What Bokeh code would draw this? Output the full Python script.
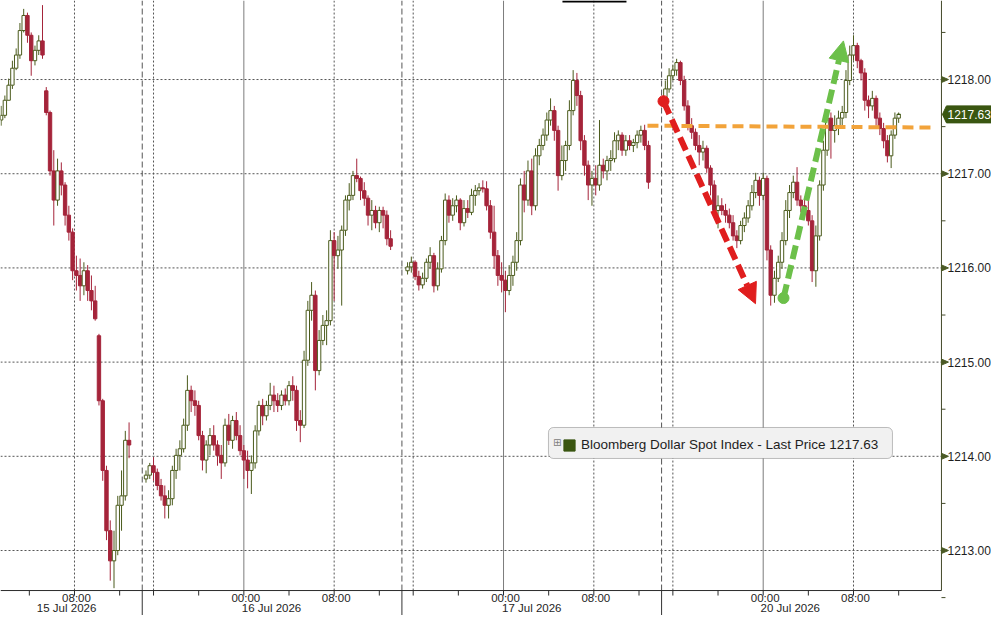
from bokeh.plotting import figure
from bokeh.models import (ColumnDataSource, Range1d, Arrow, NormalHead, Legend, LegendItem,
                          Label, BoxAnnotation)
from bokeh.embed import file_html
from bokeh.resources import INLINE

# Bloomberg Dollar Spot Index, 20 minute bars, one block per trading session
# session 1: 15 Jul, up to the 14:00 break
s1_open = [1217.57, 1217.62, 1217.78, 1217.94, 1218.12, 1218.26, 1218.52, 1218.68, 1218.47, 1218.20,
           1218.31, 1218.41, 1217.88, 1217.65, 1217.03, 1216.72, 1217.03, 1216.88, 1216.56, 1216.38,
           1215.97, 1215.92, 1215.81, 1215.97, 1215.76, 1215.65, 1215.28, 1214.59, 1213.85, 1213.21,
           1212.89, 1213.00, 1213.48, 1213.58, 1214.17]
s1_high = [1217.72, 1217.83, 1218.01, 1218.20, 1218.33, 1218.60, 1218.75, 1218.71, 1218.50, 1218.36,
           1218.47, 1218.79, 1217.92, 1217.67, 1217.25, 1217.16, 1217.12, 1216.91, 1216.66, 1216.42,
           1216.13, 1216.10, 1216.06, 1216.03, 1215.92, 1215.81, 1215.30, 1214.61, 1213.90, 1213.32,
           1213.21, 1213.58, 1213.85, 1214.27, 1214.36]
s1_low = [1217.51, 1217.59, 1217.78, 1217.90, 1218.10, 1218.22, 1218.50, 1218.39, 1218.04, 1218.15,
          1218.26, 1218.22, 1217.62, 1216.98, 1216.45, 1216.66, 1216.77, 1216.45, 1216.29, 1215.87,
          1215.76, 1215.65, 1215.71, 1215.65, 1215.55, 1215.44, 1214.54, 1213.74, 1213.11, 1212.68,
          1212.60, 1212.95, 1213.21, 1213.53, 1213.98]
s1_close = [1217.62, 1217.78, 1217.94, 1218.12, 1218.26, 1218.52, 1218.68, 1218.47, 1218.20, 1218.31,
            1218.41, 1218.26, 1217.65, 1217.03, 1216.72, 1217.03, 1216.88, 1216.56, 1216.38, 1215.97,
            1215.92, 1215.81, 1215.97, 1215.76, 1215.65, 1215.46, 1214.59, 1213.85, 1213.21, 1212.89,
            1213.00, 1213.48, 1213.58, 1214.17, 1214.12]

# session 2: 15 Jul 15:00 -> 16 Jul 14:00
s2_open = [1213.76, 1213.80, 1213.90, 1213.83, 1213.69, 1213.58, 1213.48, 1213.55, 1213.85, 1214.01,
           1214.08, 1214.33, 1214.70, 1214.59, 1214.54, 1214.22, 1213.96, 1214.12, 1214.22, 1214.12,
           1214.01, 1213.93, 1214.33, 1214.17, 1214.38, 1214.22, 1214.06, 1213.96, 1213.85, 1213.93,
           1214.27, 1214.54, 1214.43, 1214.54, 1214.65, 1214.59, 1214.54, 1214.65, 1214.59, 1214.75,
           1214.70, 1214.38, 1214.33, 1215.02, 1215.55, 1215.71, 1214.91, 1215.23, 1215.39, 1215.44,
           1216.29, 1216.13, 1216.19, 1216.40, 1216.72, 1216.77, 1216.98, 1216.95, 1216.82, 1216.74,
           1216.56, 1216.61, 1216.48, 1216.61, 1216.56, 1216.31]
s2_high = [1213.85, 1213.93, 1213.99, 1213.87, 1213.76, 1213.69, 1213.64, 1213.90, 1214.08, 1214.17,
           1214.40, 1214.86, 1214.75, 1214.70, 1214.59, 1214.27, 1214.17, 1214.30, 1214.33, 1214.17,
           1214.12, 1214.40, 1214.45, 1214.43, 1214.47, 1214.33, 1214.12, 1214.06, 1214.01, 1214.33,
           1214.59, 1214.61, 1214.59, 1214.78, 1214.75, 1214.67, 1214.70, 1214.72, 1214.80, 1214.85,
           1214.75, 1214.49, 1215.12, 1215.65, 1215.85, 1215.76, 1215.34, 1215.50, 1215.55, 1216.40,
           1216.38, 1216.34, 1216.45, 1216.77, 1216.90, 1217.03, 1217.16, 1216.97, 1216.91, 1216.77,
           1216.72, 1216.66, 1216.65, 1216.65, 1216.61, 1216.40]
s2_low = [1213.72, 1213.76, 1213.74, 1213.64, 1213.53, 1213.34, 1213.34, 1213.48, 1213.76, 1213.85,
          1214.04, 1214.27, 1214.47, 1214.43, 1214.17, 1213.85, 1213.82, 1214.01, 1214.06, 1213.90,
          1213.76, 1213.89, 1214.12, 1214.08, 1214.17, 1214.01, 1213.76, 1213.66, 1213.60, 1213.87,
          1214.22, 1214.33, 1214.38, 1214.49, 1214.47, 1214.47, 1214.49, 1214.54, 1214.54, 1214.59,
          1214.27, 1214.15, 1214.30, 1214.96, 1215.44, 1214.70, 1214.86, 1215.18, 1215.18, 1215.39,
          1215.65, 1215.99, 1215.60, 1216.34, 1216.61, 1216.72, 1216.91, 1216.72, 1216.66, 1216.45,
          1216.40, 1216.42, 1216.38, 1216.42, 1216.24, 1216.19]
s2_close = [1213.80, 1213.90, 1213.83, 1213.69, 1213.58, 1213.48, 1213.55, 1213.85, 1214.01, 1214.08,
            1214.33, 1214.70, 1214.59, 1214.54, 1214.22, 1213.96, 1214.12, 1214.22, 1214.12, 1214.01,
            1213.93, 1214.33, 1214.17, 1214.38, 1214.22, 1214.06, 1213.96, 1213.85, 1213.93, 1214.27,
            1214.54, 1214.43, 1214.54, 1214.65, 1214.59, 1214.54, 1214.65, 1214.59, 1214.75, 1214.70,
            1214.38, 1214.33, 1215.02, 1215.55, 1215.71, 1214.91, 1215.23, 1215.39, 1215.44, 1216.29,
            1216.13, 1216.19, 1216.40, 1216.72, 1216.77, 1216.98, 1216.95, 1216.82, 1216.74, 1216.56,
            1216.61, 1216.48, 1216.61, 1216.56, 1216.31, 1216.23]

# session 3: 16 Jul 15:00 -> 17 Jul 14:00
s3_open = [1215.97, 1216.01, 1216.06, 1215.91, 1215.82, 1215.89, 1216.06, 1216.13, 1215.81, 1215.99,
           1216.29, 1216.72, 1216.56, 1216.66, 1216.72, 1216.48, 1216.63, 1216.59, 1216.77, 1216.82,
           1216.85, 1216.84, 1216.66, 1216.38, 1216.13, 1215.92, 1215.87, 1215.76, 1215.92, 1216.06,
           1216.29, 1216.88, 1216.72, 1217.03, 1216.66, 1217.19, 1217.30, 1217.41, 1217.57, 1217.67,
           1217.46, 1216.98, 1217.14, 1217.30, 1217.67, 1217.99, 1217.83, 1217.35, 1217.09, 1216.88,
           1216.95, 1216.88, 1217.09, 1217.03, 1217.14, 1217.16, 1217.35, 1217.41, 1217.25, 1217.35,
           1217.30, 1217.33, 1217.41, 1217.46, 1217.30]
s3_high = [1216.06, 1216.12, 1216.08, 1215.97, 1215.95, 1216.10, 1216.22, 1216.16, 1216.06, 1216.34,
           1216.79, 1216.77, 1216.74, 1216.77, 1216.74, 1216.72, 1216.72, 1216.84, 1216.88, 1216.90,
           1216.93, 1216.92, 1216.72, 1216.66, 1216.19, 1216.06, 1215.97, 1216.03, 1216.13, 1216.38,
           1216.95, 1217.03, 1217.14, 1217.16, 1217.27, 1217.37, 1217.48, 1217.65, 1217.80, 1217.72,
           1217.51, 1217.30, 1217.35, 1217.78, 1218.10, 1218.07, 1217.88, 1217.41, 1217.14, 1217.03,
           1217.09, 1217.57, 1217.16, 1217.19, 1217.25, 1217.44, 1217.46, 1217.44, 1217.41, 1217.41,
           1217.37, 1217.46, 1217.51, 1217.52, 1217.35]
s3_low = [1215.93, 1215.95, 1215.87, 1215.76, 1215.78, 1215.85, 1215.99, 1215.74, 1215.76, 1215.95,
          1216.24, 1216.48, 1216.50, 1216.59, 1216.40, 1216.44, 1216.53, 1216.56, 1216.66, 1216.77,
          1216.80, 1216.61, 1216.31, 1215.99, 1215.81, 1215.74, 1215.53, 1215.71, 1215.81, 1215.97,
          1216.24, 1216.59, 1216.66, 1216.56, 1216.61, 1217.09, 1217.25, 1217.35, 1217.51, 1217.35,
          1216.82, 1216.93, 1217.03, 1217.25, 1217.62, 1217.72, 1217.25, 1216.98, 1216.72, 1216.66,
          1216.77, 1216.82, 1216.95, 1216.93, 1217.03, 1217.12, 1217.25, 1217.19, 1217.19, 1217.25,
          1217.23, 1217.27, 1217.33, 1217.25, 1216.84]
s3_close = [1216.01, 1216.06, 1215.91, 1215.82, 1215.89, 1216.06, 1216.13, 1215.81, 1215.99, 1216.29,
            1216.72, 1216.56, 1216.66, 1216.72, 1216.48, 1216.63, 1216.59, 1216.77, 1216.82, 1216.85,
            1216.84, 1216.66, 1216.38, 1216.13, 1215.92, 1215.87, 1215.76, 1215.92, 1216.06, 1216.29,
            1216.88, 1216.72, 1217.03, 1216.66, 1217.19, 1217.30, 1217.41, 1217.57, 1217.67, 1217.46,
            1216.98, 1217.14, 1217.30, 1217.67, 1217.99, 1217.83, 1217.35, 1217.09, 1216.88, 1216.95,
            1216.88, 1217.09, 1217.03, 1217.14, 1217.16, 1217.35, 1217.41, 1217.25, 1217.35, 1217.30,
            1217.33, 1217.41, 1217.46, 1217.30, 1216.91]

# session 4: 19 Jul 15:00 -> 20 Jul (still running)
s4_open = [1217.78, 1217.90, 1218.04, 1218.10, 1218.18, 1217.99, 1217.72, 1217.51, 1217.44, 1217.30,
           1217.23, 1217.27, 1217.06, 1216.88, 1216.61, 1216.66, 1216.61, 1216.56, 1216.48, 1216.34,
           1216.29, 1216.45, 1216.53, 1216.66, 1216.80, 1216.93, 1216.77, 1216.95, 1216.19, 1215.71,
           1215.89, 1216.06, 1216.29, 1216.61, 1216.80, 1216.91, 1216.72, 1216.66, 1216.61, 1216.50,
           1215.97, 1216.34, 1216.88, 1217.25, 1217.59, 1217.46, 1217.51, 1217.59, 1217.65, 1217.99,
           1218.26, 1218.36, 1218.20, 1218.07, 1217.78, 1217.72, 1217.80, 1217.59, 1217.48, 1217.35,
           1217.19, 1217.41, 1217.59]
s4_high = [1217.99, 1218.12, 1218.15, 1218.22, 1218.20, 1218.04, 1217.78, 1217.59, 1217.48, 1217.41,
           1217.35, 1217.30, 1217.09, 1216.93, 1216.77, 1216.74, 1216.68, 1216.63, 1216.56, 1216.40,
           1216.50, 1216.59, 1216.72, 1216.88, 1217.01, 1216.97, 1217.01, 1216.98, 1216.24, 1215.97,
           1216.13, 1216.38, 1216.72, 1216.88, 1216.98, 1217.07, 1216.77, 1216.74, 1216.72, 1216.56,
           1216.45, 1216.93, 1217.35, 1217.67, 1217.65, 1217.62, 1217.67, 1217.72, 1218.10, 1218.36,
           1218.47, 1218.39, 1218.22, 1218.12, 1217.83, 1217.88, 1217.83, 1217.65, 1217.54, 1217.41,
           1217.46, 1217.65, 1217.65]
s4_low = [1217.76, 1217.86, 1217.99, 1218.04, 1217.94, 1217.67, 1217.46, 1217.37, 1217.25, 1217.09,
          1217.14, 1217.01, 1216.77, 1216.56, 1216.42, 1216.56, 1216.48, 1216.42, 1216.29, 1216.21,
          1216.25, 1216.38, 1216.48, 1216.61, 1216.74, 1216.66, 1216.72, 1216.08, 1215.60, 1215.63,
          1215.85, 1215.99, 1216.24, 1216.53, 1216.74, 1216.66, 1216.59, 1216.56, 1216.45, 1215.85,
          1215.80, 1216.29, 1216.82, 1217.19, 1217.16, 1217.33, 1217.41, 1217.48, 1217.59, 1217.94,
          1218.20, 1218.12, 1217.99, 1217.67, 1217.59, 1217.67, 1217.51, 1217.41, 1217.27, 1217.12,
          1217.06, 1217.37, 1217.54]
s4_close = [1217.90, 1218.04, 1218.10, 1218.18, 1217.99, 1217.72, 1217.51, 1217.44, 1217.30, 1217.23,
            1217.27, 1217.06, 1216.88, 1216.61, 1216.66, 1216.61, 1216.56, 1216.48, 1216.34, 1216.29,
            1216.45, 1216.53, 1216.66, 1216.80, 1216.93, 1216.77, 1216.95, 1216.19, 1215.71, 1215.89,
            1216.06, 1216.29, 1216.61, 1216.80, 1216.91, 1216.72, 1216.66, 1216.61, 1216.50, 1215.97,
            1216.34, 1216.88, 1217.25, 1217.59, 1217.46, 1217.51, 1217.59, 1217.65, 1217.99, 1218.26,
            1218.36, 1218.20, 1218.07, 1217.78, 1217.72, 1217.80, 1217.59, 1217.48, 1217.35, 1217.19,
            1217.41, 1217.59, 1217.63]

last_price = 1217.63
series_name = "Bloomberg Dollar Spot Index - Last Price"

# time scale is in trading hours from 08:00 15 Jul; the 14:00-15:00 break and the weekend are left out
session_start = [-6.5, 6.333, 29.5, 52.333]   # first bar of each session
bar_hours = 1 / 3                              # 20 minute bars

time_ticks = [0, 15, 23, 38, 46, 61, 69]
time_labels = ["08:00", "00:00", "08:00", "00:00", "08:00", "00:00", "08:00"]
four_hour_ticks = [-4, 4, 7, 11, 19, 27, 30, 34, 42, 50, 53, 57, 65, 73]
date_pos = [-0.7, 17.45, 40.5, 63.4]
date_labels = ["15 Jul 2026", "16 Jul 2026", "17 Jul 2026", "20 Jul 2026"]
grid_8h = [0, 7, 23, 30, 46, 53, 69]       # 08:00 and 16:00
midnights = [15, 38, 61]
session_breaks = [6, 29, 52]

price_ticks = [1213, 1214, 1215, 1216, 1217, 1218]
price_half_ticks = [1212.5, 1213.5, 1214.5, 1215.5, 1216.5, 1217.5, 1218.5]

# hand drawn marks on the chart: (x start, y start, x end, y end)
red_arrow = (52.17, 1217.77, 60.32, 1215.62)
green_arrow = (62.8, 1215.68, 68.11, 1218.41)
orange_level = (50.75, 1217.51, 76.26, 1217.49)

# view: the time axis line sits at AXIS_Y, the price axis line at AXIS_X
W, H = 991, 615
X_LO, X_HI = -6.554, 81.222
Y_LO, Y_HI = 1212.31, 1218.839
AXIS_X, AXIS_Y = 76.79, 1212.575
PX = (X_HI - X_LO) / W      # one pixel, in hours
PY = (Y_HI - Y_LO) / H      # one pixel, in index points

UP_LINE = "#4b5b1c"
DOWN = "#a5243a"
TAG = "#3a5611"
INK = "#1e1e1e"
FONT = "Liberation Sans"

xs, tops, bottoms, highs, lows, fills, lines = [], [], [], [], [], [], []
sessions = [(s1_open, s1_high, s1_low, s1_close), (s2_open, s2_high, s2_low, s2_close),
            (s3_open, s3_high, s3_low, s3_close), (s4_open, s4_high, s4_low, s4_close)]
for start, (o, h, l, c) in zip(session_start, sessions):
    for i in range(len(o)):
        xs.append(start + i * bar_hours)
        tops.append(max(o[i], c[i]))
        bottoms.append(min(o[i], c[i]))
        highs.append(h[i])
        lows.append(l[i])
        up = c[i] >= o[i]
        fills.append("white" if up else DOWN)
        lines.append(UP_LINE if up else DOWN)

src = ColumnDataSource(data=dict(x=xs, top=tops, bottom=bottoms, high=highs, low=lows,
                                 fill=fills, line=lines))

p = figure(width=W, height=H, x_range=Range1d(X_LO, X_HI), y_range=Range1d(Y_LO, Y_HI),
           x_axis_location=None, y_axis_location=None, toolbar_location=None,
           output_backend="svg", min_border=0)
p.grid.visible = False
p.outline_line_color = None

# grid
p.segment(x0=X_LO, y0=price_ticks, x1=AXIS_X, y1=price_ticks, line_color="#555555",
          line_dash="2 2", line_width=1)
p.segment(x0=grid_8h, y0=AXIS_Y, x1=grid_8h, y1=Y_HI, line_color="#555555", line_dash="2 2",
          line_width=1)
p.segment(x0=midnights, y0=AXIS_Y, x1=midnights, y1=Y_HI, line_color="#7c7c7c", line_width=1)
p.segment(x0=session_breaks, y0=AXIS_Y, x1=session_breaks, y1=Y_HI, line_color="#555555",
          line_dash="6 3", line_width=1)
p.segment(x0=session_breaks, y0=Y_LO, x1=session_breaks, y1=AXIS_Y, line_color="#333333",
          line_width=1)

# candles
p.segment(x0="x", y0="high", x1="x", y1="low", line_color="line", line_width=1, source=src)
p.vbar(x="x", width=0.3, top="top", bottom="bottom", fill_color="fill", line_color="line",
       line_width=1, source=src)

# time axis
p.segment(x0=X_LO, y0=AXIS_Y, x1=AXIS_X, y1=AXIS_Y, line_color="#2b2b2b", line_width=1)
all_ticks = time_ticks + four_hour_ticks
p.segment(x0=all_ticks, y0=AXIS_Y, x1=all_ticks, y1=AXIS_Y - 5 * PY, line_color="#2b2b2b")
p.text(x=time_ticks, y=AXIS_Y - 7.5 * PY, text=time_labels, x_offset=2, text_align="center",
       text_baseline="middle", text_font={"value": FONT}, text_font_size="11.5px",
       text_color=INK)
p.text(x=date_pos, y=AXIS_Y - 17.5 * PY, text=date_labels, text_align="center",
       text_baseline="middle", text_font={"value": FONT}, text_font_size="11.5px",
       text_color=INK)

# price axis with arrow markers
p.segment(x0=AXIS_X, y0=AXIS_Y, x1=AXIS_X, y1=Y_HI, line_color="#434a2a", line_width=1)
p.segment(x0=AXIS_X, y0=price_half_ticks, x1=AXIS_X + 4 * PX, y1=price_half_ticks,
          line_color="#434a2a")
p.patches(xs=[[AXIS_X, AXIS_X + 7 * PX, AXIS_X] for t in price_ticks],
          ys=[[t + 3 * PY, t, t - 3 * PY] for t in price_ticks],
          fill_color="#4b5a25", line_color="#4b5a25")
p.text(x=AXIS_X + 6 * PX, y=price_ticks, text=[f"{t:.2f}" for t in price_ticks],
       text_align="left", text_baseline="middle", text_font={"value": FONT},
       text_font_size="12px", text_color=INK)

# last price tag
p.patch(x=[AXIS_X + 1 * PX, AXIS_X + 5 * PX, X_HI, X_HI, AXIS_X + 5 * PX],
        y=[last_price, last_price + 8.5 * PY, last_price + 8.5 * PY, last_price - 8.5 * PY,
           last_price - 8.5 * PY], fill_color=TAG, line_color=TAG)
p.text(x=AXIS_X + 6 * PX, y=last_price, text=[f"{last_price:.2f}"], text_align="left",
       text_baseline="middle", text_font={"value": FONT}, text_font_size="12px",
       text_color="white")

# hand drawn annotations
orange = "#f2a33a"
p.add_layout(Arrow(x_start=orange_level[0], y_start=orange_level[1], x_end=orange_level[2],
                   y_end=orange_level[3], end=None, line_color=orange, line_width=4,
                   line_dash="11 6"))
for (x0, y0, x1, y1), col in [(red_arrow, "#e01e1e"), (green_arrow, "#6cc04a")]:
    p.add_layout(Arrow(x_start=x0, y_start=y0, x_end=x1, y_end=y1, line_color=col, line_width=6,
                       line_dash="14 6",
                       end=NormalHead(size=20, fill_color=col, line_color=col, line_width=1)))
    p.scatter(x=[x0], y=[y0], size=11, color=col)

# clipped title strip at the top edge
p.add_layout(BoxAnnotation(left=43.22, right=48.89, top=Y_HI, bottom=Y_HI - 2 * PY,
                           fill_color="black", fill_alpha=1, line_color=None))

# legend
p.add_layout(BoxAnnotation(left=41.98, right=72.45, top=1214.306, bottom=1213.977,
                           fill_color="#f1f1f1", fill_alpha=1, line_color="#333333",
                           line_width=1, border_radius=5))
p.add_layout(Label(x=42.75, y=1214.15, text="\u229e", text_align="center",
                   text_baseline="middle", text_font="DejaVu Sans", text_font_size="10px",
                   text_color="#808080"))
last_mark = p.vbar(x=[xs[-1]], top=[last_price], bottom=[last_price], width=0.3,
                   fill_color=TAG, line_color=TAG)
leg = Legend(items=[LegendItem(label=f"{series_name} {last_price:.2f}", renderers=[last_mark])],
             location=(562, 163), padding=4, margin=0, glyph_width=14, glyph_height=14,
             label_height=14, label_standoff=5, background_fill_alpha=0, border_line_color=None,
             label_text_font=FONT, label_text_font_size="13.5px", label_text_color=INK)
p.add_layout(leg)

open("out.html", "w").write(file_html(p, INLINE))
